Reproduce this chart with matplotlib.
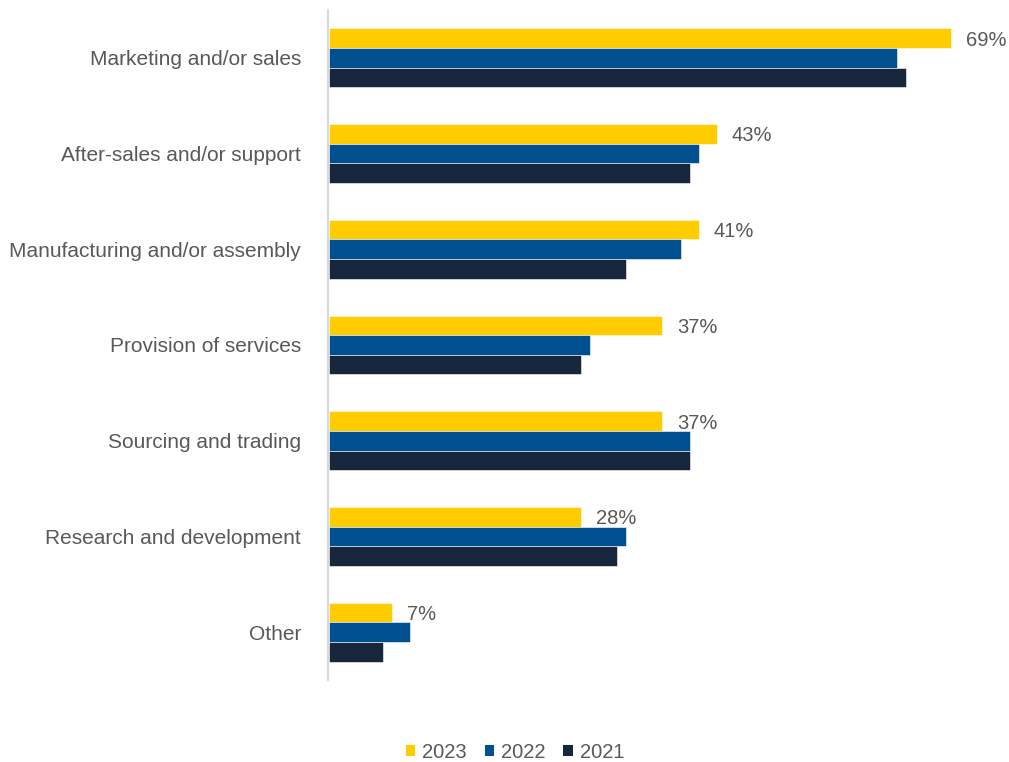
import matplotlib
matplotlib.use("Agg")
import matplotlib.pyplot as plt
from matplotlib.patches import Patch
import numpy as np

plt.rcParams['font.family'] = ['Liberation Sans', 'DejaVu Sans']

categories = [
    "Marketing and/or sales",
    "After-sales and/or support",
    "Manufacturing and/or assembly",
    "Provision of services",
    "Sourcing and trading",
    "Research and development",
    "Other",
]
years = ["2023", "2022", "2021"]
values_2023 = [69, 43, 41, 37, 37, 28, 7]
values_2022 = [63, 41, 39, 29, 40, 33, 9]
values_2021 = [64, 40, 33, 28, 40, 32, 6]
colors = ["#FFCC00", "#00508F", "#17263C"]
text_color = "#595959"

W, H = 1009, 762
fig = plt.figure(figsize=(W / 100, H / 100), dpi=100)
ax = fig.add_axes([329 / W, (H - 680) / H, 676 / W, 670 / H])

y = np.arange(len(categories))
bar_h = 0.205
series = [values_2023, values_2022, values_2021]
for k, (vals, col) in enumerate(zip(series, colors)):
    ax.barh(y + (k - 1) * bar_h, vals, height=bar_h, color=col,
            edgecolor="white", linewidth=0.4)

for i, v in enumerate(values_2023):
    ax.annotate(f"{v}%", xy=(v, y[i] - bar_h), xytext=(15, -2),
                textcoords="offset pixels",
                va="center", ha="left", fontsize=14.5, color=text_color)

ax.set_xlim(0, 75)
ax.set_ylim(len(categories) - 0.5, -0.5)
ax.set_yticks(y)
ax.set_yticklabels(categories)
ax.tick_params(axis="y", length=0, pad=19, labelsize=15, labelcolor=text_color)
ax.set_xticks([])
for side in ["top", "right", "bottom"]:
    ax.spines[side].set_visible(False)
ax.spines["left"].set_color("#D9D9D9")
ax.spines["left"].set_linewidth(1.5)
ax.spines["left"].set_position(("outward", 1))

handles = [Patch(facecolor=c, edgecolor="none") for c in colors]
fig.legend(handles, years, loc="center", bbox_to_anchor=(515 / W, 1 - 752 / H),
           ncol=3, frameon=False, fontsize=14.5, labelcolor=text_color,
           handlelength=0.45, handleheight=0.45, handletextpad=0.35,
           columnspacing=0.9)

fig.savefig("out.png", dpi=100, facecolor="white")
